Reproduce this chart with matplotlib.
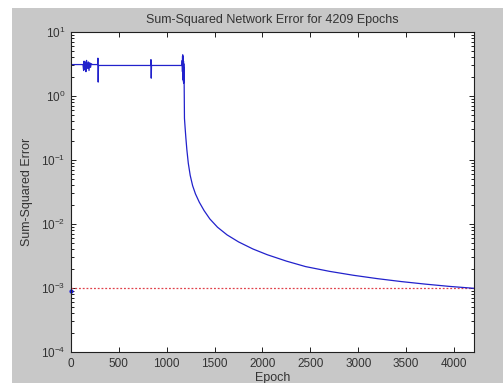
import matplotlib
matplotlib.use("Agg")
import matplotlib.pyplot as plt
from matplotlib.patches import Rectangle

plt.rcParams['font.family'] = ['Liberation Sans', 'DejaVu Sans']
plt.rcParams['mathtext.fontset'] = 'custom'
plt.rcParams['mathtext.rm'] = 'Liberation Sans'
plt.rcParams['mathtext.it'] = 'Liberation Sans:italic'
plt.rcParams['mathtext.bf'] = 'Liberation Sans:bold'

# ---- data ----
epochs = [0, 125, 132, 136, 142, 150, 156, 162, 168, 176, 182, 188, 196, 204, 212, 222, 230,
          278, 281, 284, 287, 292,
          832, 835, 838, 841,
          1156, 1160, 1162, 1164, 1165, 1166, 1167, 1168, 1169, 1170, 1171, 1172, 1173, 1174,
          1175, 1176, 1177, 1178, 1179, 1180, 1182, 1185,
          1192, 1200, 1210, 1225, 1245, 1270, 1300, 1340, 1390, 1450, 1530, 1630, 1750, 1900,
          2050, 2250, 2450, 2700, 2950, 3200, 3450, 3700, 3950, 4209]
sse = [3.1, 3.1, 2.5, 3.5, 2.6, 3.4, 2.4, 3.6, 3.1, 2.7, 3.4, 2.5, 3.3, 2.8, 3.2, 3.1, 3.1,
       3.1, 3.9, 1.65, 3.0, 3.0,
       3.0, 3.7, 1.9, 3.0,
       3.0, 3.0, 3.6, 2.4, 4.2, 2.2, 4.4, 2.0, 4.1, 1.9, 3.9, 1.8, 3.7, 1.7,
       3.5, 1.6, 3.2, 1.6, 2.8, 1.7, 1.5, 0.447,
       0.316, 0.219, 0.145, 0.0891, 0.0575, 0.0398, 0.0295, 0.0219, 0.0162, 0.0120, 0.00891,
       0.00676, 0.00525, 0.00407,
       0.00331, 0.00263, 0.00216, 0.00182, 0.00158, 0.00140, 0.00126, 0.00115, 0.00106, 0.000989]
goal = 1e-3
goal_marker_value = 0.00089
x_ticks = [0, 500, 1000, 1500, 2000, 2500, 3000, 3500, 4000]
x_max = 4209
y_range = (1e-4, 1e1)
title = "Sum-Squared Network Error for 4209 Epochs"
xlabel = "Epoch"
ylabel = "Sum-Squared Error"

W, H = 503, 383
fig = plt.figure(figsize=(W / 100, H / 100), dpi=100, facecolor='white')
fig.patches.append(Rectangle((12 / W, 0), 1 - 12 / W, (H - 8) / H,
                             transform=fig.transFigure, facecolor='#c8c8c8',
                             edgecolor='none', zorder=-10))

ax = fig.add_axes([71 / W, (H - 352) / H, 403 / W, 320 / H])
ax.set_facecolor('white')

ax.plot([0, x_max], [goal, goal], color='#e0404a', linestyle=(0, (1.5, 1.5)), linewidth=0.9)
ax.plot(epochs, sse, color='#2222cc', linewidth=0.9)
ax.plot([0], [goal_marker_value], marker='o', markersize=2, color='#1a1ae0', clip_on=False)

ax.set_yscale('log')
ax.set_xlim(0, x_max)
ax.set_ylim(*y_range)
ax.set_xticks(x_ticks)
ax.set_xticklabels([str(t) for t in x_ticks])

for s in ax.spines.values():
    s.set_color('#202020')
    s.set_linewidth(0.8)
ax.tick_params(which='both', direction='in', top=True, right=True,
               colors='#202020', labelsize=8.5, width=0.7)
ax.tick_params(which='major', length=3.5, pad=4)
ax.tick_params(which='minor', length=2)
ax.tick_params(axis='x', which='minor', bottom=False, top=False)
for lab in ax.get_xticklabels() + ax.get_yticklabels():
    lab.set_color('#333333')

ax.set_ylabel(ylabel, fontsize=9, color='#333333')
ax.yaxis.set_label_coords(-0.095, 0.5)
fig.text(272.5 / W, 1 - 20.5 / H, title, ha='center', va='center', fontsize=9, color='#333333')
fig.text(272.5 / W, 0.004, xlabel, ha='center', va='baseline', fontsize=9, color='#333333')

fig.savefig('out.png', dpi=100, facecolor=fig.get_facecolor())
